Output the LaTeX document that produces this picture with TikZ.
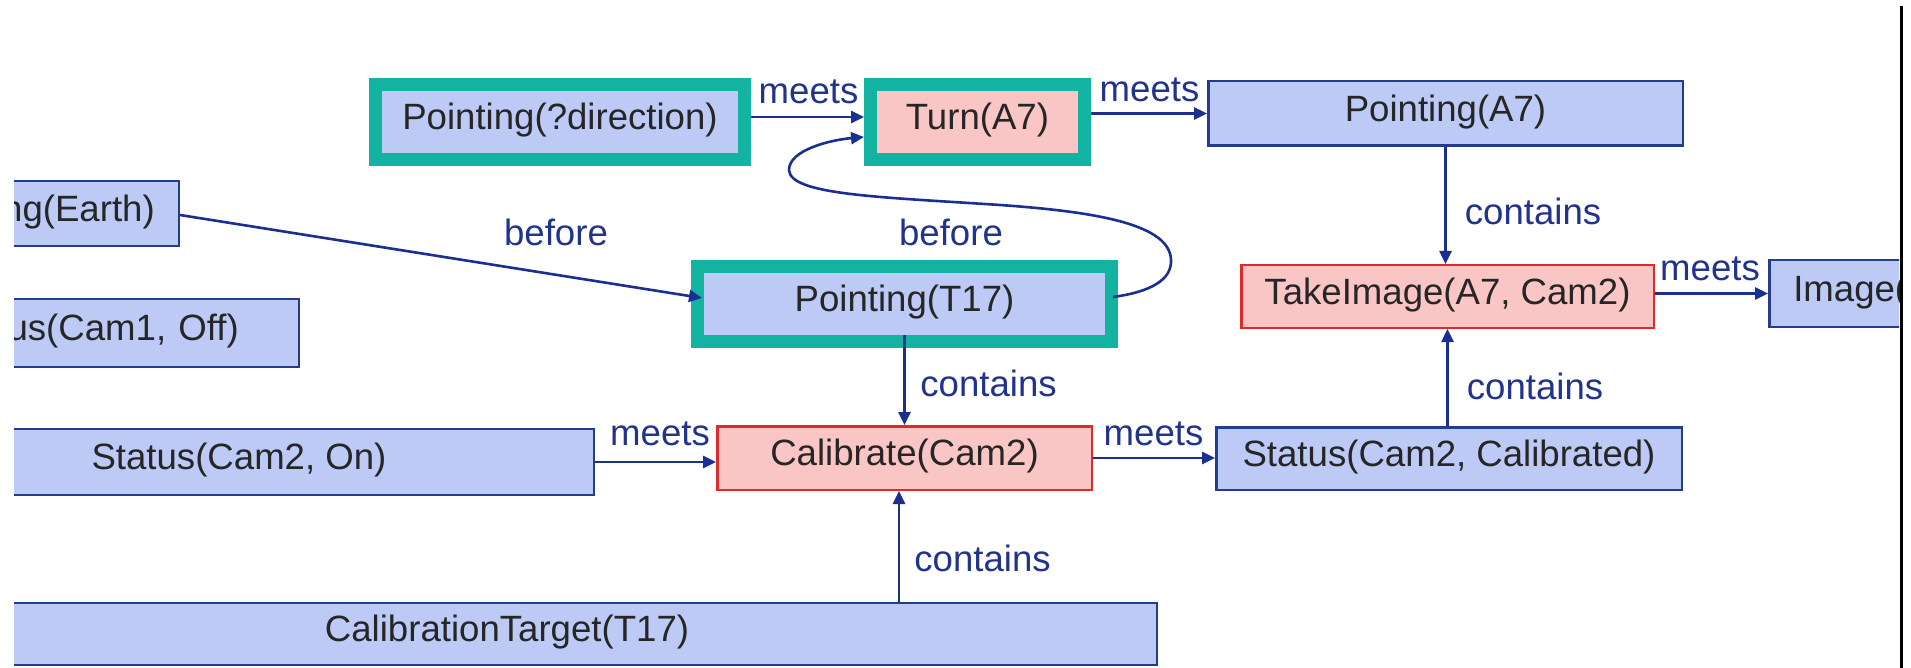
\documentclass[tikz,border=0pt]{standalone}
\usepackage{fontspec}
\setmainfont{Liberation Sans}
\usetikzlibrary{arrows.meta,calc}
\definecolor{bfill}{HTML}{BDCAF6}
\definecolor{bdraw}{HTML}{233C8C}
\definecolor{pfill}{HTML}{F9C5C5}
\definecolor{pdraw}{HTML}{DD2A2A}
\definecolor{tealc}{HTML}{12B3A0}
\definecolor{arrc}{HTML}{1B2F8E}
\definecolor{lblc}{HTML}{22338C}
\definecolor{txtc}{HTML}{262626}
\begin{document}
\begin{tikzpicture}[x=0.5pt,y=-0.5pt,
  every node/.style={font=\fontsize{18.3pt}{22pt}\selectfont, text=txtc},
  boxtext/.style={text height=0.9em, text depth=0.12em},
  bluebox/.style={boxtext, draw=bdraw, fill=bfill, line width=1.25pt, inner sep=0pt},
  pinkbox/.style={boxtext, draw=pdraw, fill=pfill, line width=1.25pt, inner sep=0pt},
  tealbox/.style={boxtext, draw=tealc, line width=6.5pt, inner sep=0pt},
  arr/.style={draw=arrc, line width=1.3pt, -{Triangle[length=6.5pt,width=6pt]}},
  lbl/.style={text=lblc, inner sep=0pt}]
\useasboundingbox (0,0) rectangle (1911,668);
\fill[white] (0,0) rectangle (1911,668);
\begin{scope}
\clip (14,0) rectangle (1899,668);
% top row
\node[tealbox, fill=bfill, minimum width=184.5pt, minimum height=37.5pt] (pd) at (560,122) {Pointing(?direction)};
\node[tealbox, fill=pfill, minimum width=107pt, minimum height=37.5pt] (turn) at (977.5,122) {Turn(A7)};
\node[bluebox, minimum width=237.25pt, minimum height=32.25pt] (pa7) at (1445.5,113.5) {Pointing(A7)};
% left boxes (cut by the picture edge)
\node[bluebox, anchor=east, minimum height=32.5pt, text width=116pt, align=right, inner xsep=12pt] (earth) at (180,213.5) {ng(Earth)};
\node[bluebox, anchor=east, minimum height=34pt, text width=140pt, align=right, inner xsep=30pt] (cam1) at (300,333) {us(Cam1, Off)};
% middle row
\node[tealbox, fill=bfill, minimum width=207pt, minimum height=37.5pt] (pt17) at (904.5,304) {Pointing(T17)};
\node[pinkbox, minimum width=206.25pt, minimum height=31.25pt] (ti) at (1447.5,296.5) {TakeImage(A7, Cam2)};
\node[bluebox, anchor=west, minimum height=33.5pt, text width=150pt, align=left, inner xsep=12pt] (img) at (1768,293.5) {Image(};
% lower row
\node[bluebox, minimum width=355pt, minimum height=33pt] (son) at (239,462) {Status(Cam2, On)};
\node[pinkbox, minimum width=187.25pt, minimum height=31.75pt] (cal) at (904.5,458) {Calibrate(Cam2)};
\node[bluebox, minimum width=232.75pt, minimum height=31.25pt] (sc) at (1449,458.5) {Status(Cam2, Calibrated)};
\node[bluebox, minimum width=650pt, minimum height=31pt] (ct) at (507,634) {CalibrationTarget(T17)};
% connectors
\draw[arr] ([yshift=2.5pt]pd.east) -- ([yshift=2.5pt]turn.west);
\draw[arr] (turn.east |- pa7.west) -- (pa7.west);
\draw[arr] (pa7.south) -- (pa7.south |- ti.north);
\draw[arr] (ti.east |- img.west) -- (img.west);
\draw[arr] (sc.north -| ti.south) -- (ti.south);
\draw[arr] (son.east) -- (son.east -| cal.west);
\draw[arr] (cal.east) -- (cal.east -| sc.west);
\draw[arr] ([yshift=6.5pt]pt17.south) -- (cal.north);
\draw[arr] ([xshift=-2.75pt]cal.south |- ct.north) -- ([xshift=-2.75pt]cal.south);
\draw[arr] ([yshift=-0.75pt]earth.east) -- ([xshift=5.5pt,yshift=3pt]pt17.west);
\draw[arr] ([xshift=-2.5pt,yshift=3.5pt]pt17.east) .. controls (1150,292) and (1172,280) .. (1171,260)
  .. controls (1170,225) and (1100,212) .. (1000,205)
  .. controls (880,197) and (790,195) .. (789,170)
  .. controls (789,150) and (830,140) .. ([yshift=-7.5pt]turn.west);
% labels
\node[lbl] (l1) at (808.5,92) {meets};
\node[lbl] (l2) at (1149.5,90) {meets};
\node[lbl] (l3) at (1533,211) {contains};
\node[lbl] (l4) at (1710,269) {meets};
\node[lbl] (l5) at (1535,386) {contains};
\node[lbl] (l6) at (988.5,383.5) {contains};
\node[lbl] (l7) at (982.5,558.5) {contains};
\node[lbl] (l8) at (660,434) {meets};
\node[lbl] (l9) at (1153.5,433.5) {meets};
\node[lbl] (l10) at (556,232.5) {before};
\node[lbl] (l11) at (951,232.5) {before};
\end{scope}
\draw[black, line width=1.5pt] (1901,6) -- (1901,668);
\end{tikzpicture}
\end{document}
